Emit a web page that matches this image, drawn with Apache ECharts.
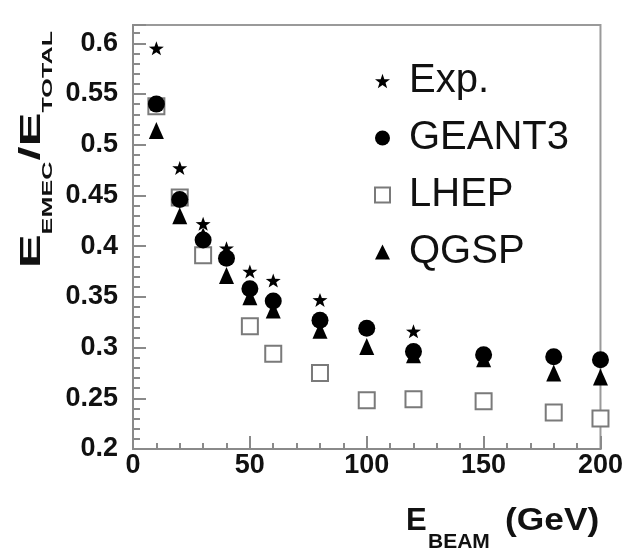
<!DOCTYPE html>
<html>
<head>
<meta charset="utf-8">
<script src="https://cdn.jsdelivr.net/npm/echarts@6/dist/echarts.min.js"></script>
<style>
  html, body { margin: 0; padding: 0; background: #fff; }
  #chart { width: 626px; height: 555px; }
</style>
</head>
<body>
<div id="chart"></div>
<script>
// Beam energies (GeV) and the EMEC / total energy ratio for each sample
const expEnergies = [10, 20, 30, 40, 50, 60, 80, 120];
const expRatio    = [0.595, 0.477, 0.422, 0.398, 0.375, 0.366, 0.347, 0.316];

const geantEnergies = [10, 20, 30, 40, 50, 60, 80, 100, 120, 150, 180, 200];
const geantRatio    = [0.540, 0.446, 0.406, 0.388, 0.358, 0.346, 0.327, 0.319, 0.296, 0.293, 0.291, 0.288];

const lhepEnergies = [10, 20, 30, 50, 60, 80, 100, 120, 150, 180, 200];
const lhepRatio    = [0.538, 0.448, 0.391, 0.321, 0.294, 0.275, 0.248, 0.249, 0.247, 0.236, 0.230];

const qgspEnergies = [10, 20, 30, 40, 50, 60, 80, 100, 120, 150, 180, 200];
const qgspRatio    = [0.514, 0.430, 0.410, 0.371, 0.350, 0.337, 0.317, 0.301, 0.293, 0.289, 0.275, 0.271];

const seriesNames = ['Exp.', 'GEANT3', 'LHEP', 'QGSP'];

const xTicks = { min: 0, max: 200, interval: 50 };
const yTicks = { min: 0.2, max: 0.618, interval: 0.05 };

const STAR = 'path://M95,0L118.6,67.6L190,69L133,112.4L154,181L95,140L36,181L57,112.4L0,69L71.6,67.6Z';
const AXIS_GREY = '#8a8a8a';

function pairs(xs, ys) {
  return xs.map((x, i) => [x, ys[i]]);
}

const chart = echarts.init(document.getElementById('chart'), null, { renderer: 'canvas' });

const tickFont = { fontFamily: 'Liberation Sans', fontWeight: 'bold', fontSize: 27, color: '#111' };

chart.setOption({
  animation: false,
  backgroundColor: '#fff',
  grid: {
    left: 133, right: 22, top: 25, bottom: 106,
    show: true, borderColor: '#9a9a9a', borderWidth: 2, backgroundColor: 'transparent'
  },
  legend: {
    orient: 'vertical',
    left: 369, top: 54,
    itemWidth: 15, itemHeight: 15,
    itemGap: 13,
    data: seriesNames,
    textStyle: {
      fontFamily: 'Liberation Sans',
      fontSize: 40, lineHeight: 44, color: '#111',
      padding: [0, 0, 0, 14]
    }
  },
  xAxis: {
    type: 'value',
    min: xTicks.min, max: xTicks.max, interval: xTicks.interval,
    axisLine: { show: true, lineStyle: { color: AXIS_GREY, width: 2 } },
    axisTick: { show: true, inside: true, length: 13, lineStyle: { color: AXIS_GREY, width: 2 } },
    minorTick: { show: true, splitNumber: 5, length: 6, lineStyle: { color: AXIS_GREY, width: 2 } },
    splitLine: { show: false },
    axisLabel: Object.assign({ margin: 3 }, tickFont)
  },
  yAxis: {
    type: 'value',
    min: yTicks.min, max: yTicks.max, interval: yTicks.interval,
    axisLine: { show: true, lineStyle: { color: AXIS_GREY, width: 2 } },
    axisTick: { show: true, inside: true, length: 13, lineStyle: { color: AXIS_GREY, width: 2 } },
    minorTick: { show: true, splitNumber: 5, length: 7, lineStyle: { color: AXIS_GREY, width: 2 } },
    splitLine: { show: false },
    axisLabel: Object.assign({
      margin: 15,
      showMaxLabel: false,
      formatter: v => (Math.abs(v / 0.05 - Math.round(v / 0.05)) < 1e-6 ? String(+v.toFixed(2)) : '')
    }, tickFont)
  },
  series: [
    {
      name: 'Exp.', type: 'scatter', z: 2,
      symbol: STAR, symbolSize: [15, 14],
      itemStyle: { color: '#000', opacity: 1 },
      data: pairs(expEnergies, expRatio)
    },
    {
      name: 'GEANT3', type: 'scatter', z: 4,
      symbol: 'circle', symbolSize: 17,
      itemStyle: { color: '#000', opacity: 1 },
      data: pairs(geantEnergies, geantRatio)
    },
    {
      name: 'LHEP', type: 'scatter', z: 1,
      symbol: 'rect', symbolSize: 16,
      itemStyle: { color: '#fff', borderColor: '#7a7a7a', borderWidth: 2, opacity: 1 },
      data: pairs(lhepEnergies, lhepRatio)
    },
    {
      name: 'QGSP', type: 'scatter', z: 3,
      symbol: 'triangle', symbolSize: [15, 17],
      itemStyle: { color: '#000', opacity: 1 },
      data: pairs(qgspEnergies, qgspRatio)
    }
  ],
  graphic: [
    // x axis title: E_BEAM (GeV)
    {
      type: 'group', x: 406, y: 521,
      children: [
        { type: 'text', x: 0, y: 0, style: { text: 'E', fontFamily: 'Liberation Sans', fontWeight: 'bold', fontSize: 31, fill: '#111', align: 'left', verticalAlign: 'middle' } },
        { type: 'text', x: 22, y: 21, style: { text: 'BEAM', fontFamily: 'Liberation Sans', fontWeight: 'bold', fontSize: 21, fill: '#111', align: 'left', verticalAlign: 'middle' } },
        { type: 'text', x: 99, y: 0, scaleX: 1.14, style: { text: '(GeV)', fontFamily: 'Liberation Sans', fontWeight: 'bold', fontSize: 31, fill: '#111', align: 'left', verticalAlign: 'middle' } }
      ]
    },
    // y axis title: E_EMEC / E_TOTAL, reading bottom to top
    {
      type: 'group', x: 43, y: 268, rotation: Math.PI / 2, scaleX: 1.68,
      children: [
        { type: 'text', x: 0, y: -11, style: { text: 'E', fontFamily: 'Liberation Sans', fontWeight: 'bold', fontSize: 30, fill: '#111', align: 'left', verticalAlign: 'middle' } },
        { type: 'text', x: 20, y: 5, style: { text: 'EMEC', fontFamily: 'Liberation Sans', fontWeight: 'bold', fontSize: 15, fill: '#111', align: 'left', verticalAlign: 'middle' } },
        { type: 'text', x: 64, y: -11, style: { text: '/', fontFamily: 'Liberation Sans', fontWeight: 'bold', fontSize: 30, fill: '#111', align: 'left', verticalAlign: 'middle' } },
        { type: 'text', x: 72.5, y: -11, style: { text: 'E', fontFamily: 'Liberation Sans', fontWeight: 'bold', fontSize: 30, fill: '#111', align: 'left', verticalAlign: 'middle' } },
        { type: 'text', x: 92.5, y: 5, style: { text: 'TOTAL', fontFamily: 'Liberation Sans', fontWeight: 'bold', fontSize: 15, fill: '#111', align: 'left', verticalAlign: 'middle' } }
      ]
    }
  ]
});
</script>
</body>
</html>
